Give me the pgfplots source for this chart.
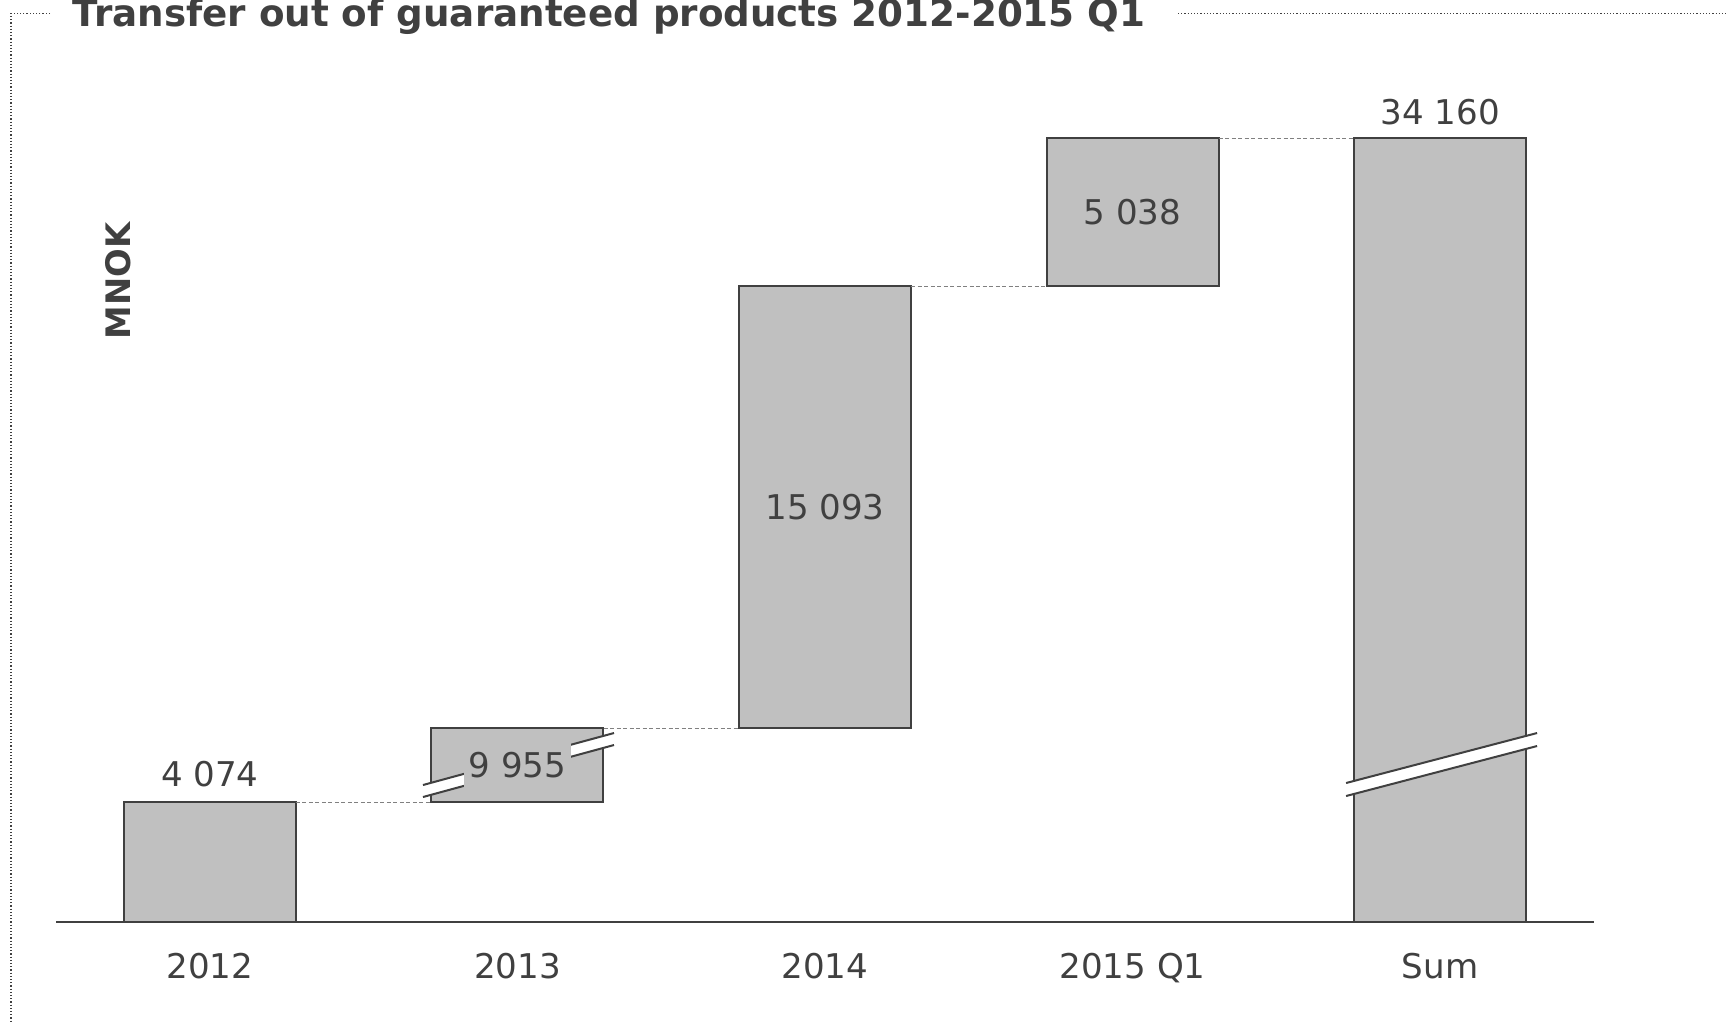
\documentclass[border=0pt]{standalone}
\usepackage{pgfplots}
\pgfplotsset{compat=1.18}
\usepackage{fontspec}
\setmainfont{DejaVu Sans}
\definecolor{txt}{HTML}{404040}
\definecolor{barfill}{HTML}{C0C0C0}
\definecolor{edge}{HTML}{404040}
\definecolor{conn}{HTML}{808080}
% Visual (broken-axis) positions of the waterfall bars; the real values are the labels.
\pgfplotstableread{
x base height
0 0   120
1 120 74
2 194 442
3 636 148
4 0   784
}\wf
\tikzset{lab/.style={font=\fontsize{9.7}{11}\selectfont, text=txt},
  connl/.style={conn, line width=0.1mm, dash pattern=on 0.4mm off 0.25mm},
  brk/.style={edge, line width=0.2mm}}
\begin{document}
\begin{tikzpicture}
\path[use as bounding box] (0,0) rectangle (172.7mm,-102.1mm);
\begin{scope}[x=0.1mm,y=-0.1mm]
\draw[txt, line width=0.12mm, dash pattern=on 0.12mm off 0.2mm] (50,13.3) -- (11,13.3) -- (11,1040);
\draw[txt, line width=0.12mm, dash pattern=on 0.12mm off 0.2mm] (1178,13.3) -- (1740,13.3);
\node[anchor=base west, inner sep=0, font=\fontsize{10.6}{12}\bfseries\selectfont, text=txt] at (72,26.7) {Transfer out of guaranteed products 2012-2015 Q1};
\node[rotate=90, anchor=center, inner sep=0, font=\fontsize{9.6}{12}\bfseries\selectfont, text=txt] at (118.5,281) {MNOK};
\end{scope}
\begin{axis}[at={(5.6mm,-92.2mm)}, anchor=south west, scale only axis,
  width=153.8mm, height=82.3mm,
  xmin=-0.5, xmax=4.5, ymin=0, ymax=823,
  axis y line=none, axis x line*=bottom,
  x axis line style={draw=edge, line width=0.25mm, -},
  xtick={0,1,2,3,4}, xticklabels={2012,2013,2014,2015 Q1,Sum},
  xtick style={draw=none},
  xticklabel style={font=\fontsize{9.7}{11}\selectfont, text=txt, anchor=base, yshift=-5.6mm},
  ybar stacked, bar width=17.2mm, clip=false,
  after end axis/.append code={
    \draw[connl] (axis cs:0.28,120) -- (axis cs:0.72,120);
    \draw[connl] (axis cs:1.28,194) -- (axis cs:1.72,194);
    \draw[connl] (axis cs:2.28,636) -- (axis cs:2.72,636);
    \draw[connl] (axis cs:3.28,784) -- (axis cs:3.72,784);
    \fill[white] (axis cs:0.693,125) -- (axis cs:1.314,177) -- (axis cs:1.314,189) -- (axis cs:0.693,137) -- cycle;
    \draw[brk] (axis cs:0.693,125) -- (axis cs:1.314,177);
    \draw[brk] (axis cs:0.693,137) -- (axis cs:1.314,189);
    \fill[white] (axis cs:3.694,126) -- (axis cs:4.315,176) -- (axis cs:4.315,189) -- (axis cs:3.694,139) -- cycle;
    \draw[brk] (axis cs:3.694,126) -- (axis cs:4.315,176);
    \draw[brk] (axis cs:3.694,139) -- (axis cs:4.315,189);
    \node[lab, anchor=base, inner sep=0, yshift=1.6mm] at (axis cs:0,120) {4 074};
    \node[lab, anchor=center, fill=barfill, inner xsep=0.5mm, inner ysep=1mm] at (axis cs:1,157) {9 955};
    \node[lab, anchor=center, inner sep=0] at (axis cs:2,415) {15 093};
    \node[lab, anchor=center, inner sep=0] at (axis cs:3,710) {5 038};
    \node[lab, anchor=base, inner sep=0, yshift=1.35mm] at (axis cs:4,784) {34 160};
  }]
\addplot[draw=none, fill=none] table[x=x, y=base] {\wf};
\addplot[fill=barfill, draw=edge, line width=0.2mm] table[x=x, y=height] {\wf};
\end{axis}
\end{tikzpicture}
\end{document}
